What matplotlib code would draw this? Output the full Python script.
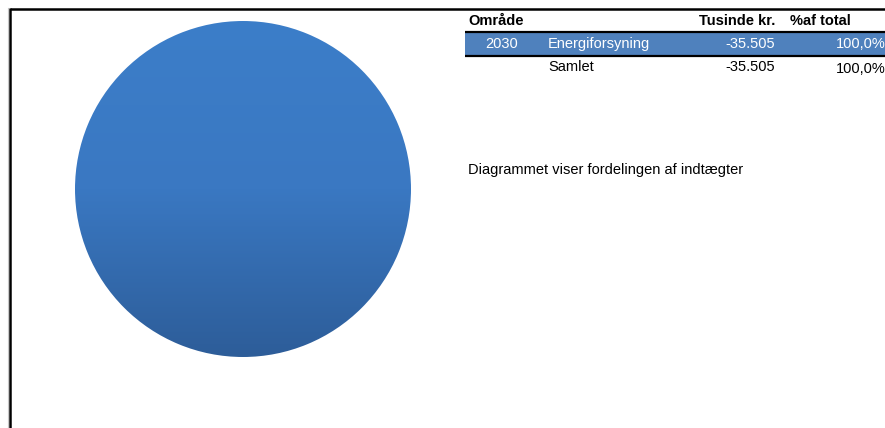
import numpy as np
import matplotlib.pyplot as plt
from matplotlib.colors import LinearSegmentedColormap

plt.rcParams['font.family'] = ['Liberation Sans', 'DejaVu Sans']

# data
omraade = ['2030']
navne = ['Energiforsyning']
beloeb = [-35505]
total_label = 'Samlet'
kolonner = ['Område', 'Tusinde kr.', '%af total']
note = 'Diagrammet viser fordelingen af indtægter'

def dk(v):
    return f'{v:,.0f}'.replace(',', '.')

def pct(v):
    return f'{v:.1f}%'.replace('.', ',')

W, H = 885, 428
fig = plt.figure(figsize=(W / 100, H / 100), dpi=100)

# overlay in pixel coordinates for frame + table
ov = fig.add_axes([0, 0, 1, 1])
ov.set_xlim(0, W)
ov.set_ylim(H, 0)
ov.axis('off')

# frame lines
ov.plot([10, W], [9, 9], color='black', lw=1.8, solid_capstyle='butt')
ov.plot([10, 10], [8, H], color='black', lw=1.8, solid_capstyle='butt')
ov.plot([8, 8], [8, H], color='#c8c8c8', lw=0.8)

# pie
cx, cy, r = 243, 189, 168
ax = fig.add_axes([(cx - r) / W, (H - cy - r) / H, 2 * r / W, 2 * r / H])
vals = np.abs(beloeb)
wedges, _ = ax.pie(vals, startangle=90, counterclock=False, radius=1,
                   wedgeprops=dict(linewidth=0))
cmap = LinearSegmentedColormap.from_list('g', ['#2d5d99', '#3a78c2', '#3c7ec9'])
grad = np.linspace(0, 1, 256).reshape(-1, 1)
for w in wedges:
    w.set_facecolor('none')
    im = ax.imshow(grad, extent=[-1, 1, -1, 1], origin='lower', cmap=cmap,
                   aspect='auto', zorder=1)
    im.set_clip_path(w)
ax.set_xlim(-1, 1)
ax.set_ylim(-1, 1)
ax.axis('off')

# table
fs = 10.5
x0, x1 = 465, W
ov.text(468, 21, kolonner[0], fontsize=fs, fontweight='bold', va='center')
ov.text(775, 21, kolonner[1], fontsize=fs, fontweight='bold', va='center', ha='right')
ov.text(790, 21, kolonner[2], fontsize=fs, fontweight='bold', va='center')
ov.plot([x0, x1], [32, 32], color='black', lw=1.6, solid_capstyle='butt')

total = sum(beloeb)
row_y = 44
for o, n, b in zip(omraade, navne, beloeb):
    ov.fill_between([x0, x1], row_y - 11, row_y + 11, color='#4f81bd', lw=0)
    ov.text(502, row_y, o, fontsize=fs, color='white', va='center', ha='center')
    ov.text(548, row_y, n, fontsize=fs, color='white', va='center')
    ov.text(775, row_y, dk(b), fontsize=fs, color='white', va='center', ha='right')
    ov.text(886, row_y, pct(100 * b / total), fontsize=fs, color='white',
            va='center', ha='right')
    row_y += 22
ov.plot([x0, x1], [row_y - 10, row_y - 10], color='black', lw=1.6, solid_capstyle='butt')
ov.text(548, row_y + 1, total_label, fontsize=fs, va='center')
ov.text(775, row_y + 1, dk(total), fontsize=fs, va='center', ha='right')
ov.text(886, row_y + 3, pct(100.0), fontsize=fs, va='center', ha='right')

ov.text(468, 170, note, fontsize=fs, va='center')

fig.savefig('out.png', dpi=100)
